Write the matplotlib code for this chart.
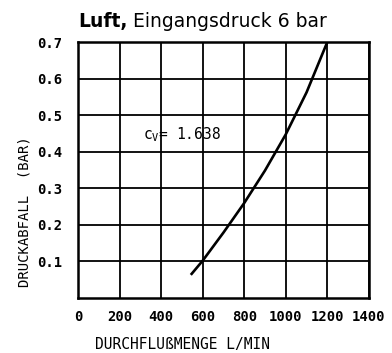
import matplotlib.pyplot as plt

# pressure drop curve, air at 6 bar inlet
flow = [547, 600, 700, 800, 900, 1000, 1100, 1200]
drop = [0.065, 0.101, 0.178, 0.259, 0.348, 0.447, 0.562, 0.700]

xticks = [0, 200, 400, 600, 800, 1000, 1200, 1400]
yticks = [0.1, 0.2, 0.3, 0.4, 0.5, 0.6, 0.7]

mono = 'DejaVu Sans Mono'

fig = plt.figure(figsize=(3.92, 3.53), dpi=100)
ax = fig.add_axes([0.199, 0.157, 0.742, 0.724])

ax.plot(flow, drop, color='black', lw=1.9)

ax.set_xlim(0, 1400)
ax.set_ylim(0, 0.7)
ax.set_xticks(xticks)
ax.set_yticks(yticks)
ax.set_xticklabels([str(t) for t in xticks], family=mono, fontsize=10,
                   fontweight='bold')
ax.set_yticklabels(['%.1f' % t for t in yticks], family=mono, fontsize=10,
                   fontweight='bold')
ax.tick_params(axis='x', length=0, pad=9)
ax.tick_params(axis='y', length=0, pad=11)
ax.grid(True, color='black', lw=1.3)
for s in ax.spines.values():
    s.set_linewidth(1.8)

ax.set_xlabel('DURCHFLUßMENGE L/MIN', family=mono, fontsize=10.5)
ax.xaxis.set_label_coords(0.36, -0.155)
ax.set_ylabel('DRUCKABFALL  (BAR)', family=mono, fontsize=10)
ax.yaxis.set_label_coords(-0.16, 0.338)

ax.text(313, 0.445, r'c$_\mathregular{V}$= 1.638', family=mono, fontsize=10.5,
        va='center', ha='left')

t1 = ax.text(0.0, 1.058, 'Luft,', transform=ax.transAxes, fontsize=13.5,
             fontweight='bold', va='baseline', ha='left')
ax.annotate(' Eingangsdruck 6 bar', xy=(1, 0), xycoords=t1, fontsize=13.5,
            va='bottom', ha='left')

fig.savefig('out.png', dpi=100)
